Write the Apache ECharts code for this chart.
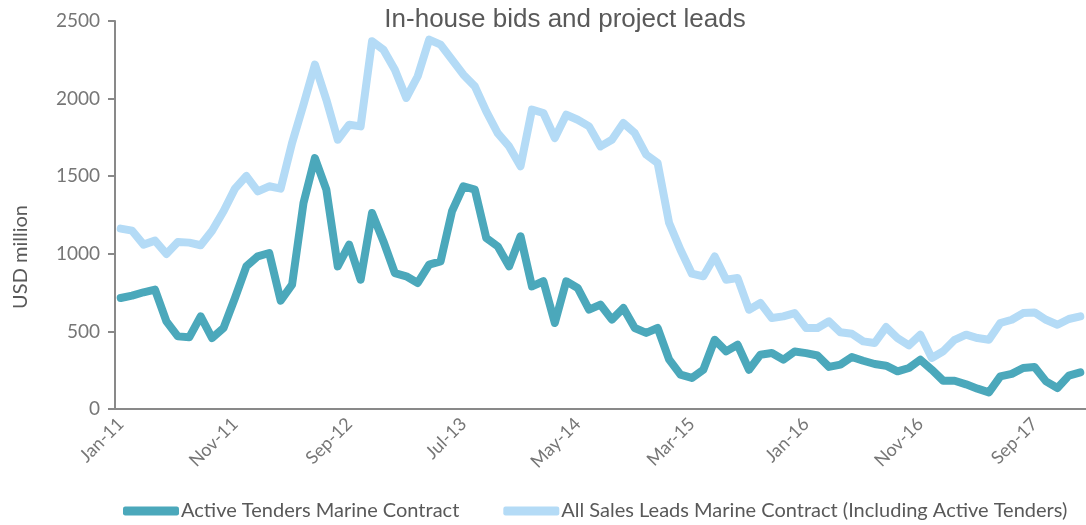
<!DOCTYPE html>
<html>
<head>
<meta charset="UTF-8">
<title>In-house bids and project leads</title>
<script src="https://cdn.jsdelivr.net/npm/echarts@6/dist/echarts.min.js"></script>
<style>
  html, body { margin: 0; padding: 0; background: #fff; }
  #chart { width: 1086px; height: 525px; }
</style>
</head>
<body>
<div id="chart"></div>
<script>
// months Jan-11 .. Jan-18
var monthNames = ['Jan', 'Feb', 'Mar', 'Apr', 'May', 'Jun', 'Jul', 'Aug', 'Sep', 'Oct', 'Nov', 'Dec'];
var months = [];
for (var y = 11; y <= 18; y++) {
    for (var m = 0; m < 12; m++) {
        if (y === 18 && m > 0) break;
        months.push(monthNames[m] + '-' + y);
    }
}

var activeTenders = [
    715, 730, 752, 769, 565, 468, 462, 597, 457, 522,
    715, 919, 984, 1005, 698, 801, 1327, 1617, 1413, 919,
    1059, 833, 1263, 1080, 876, 855, 812, 930, 951, 1274,
    1435, 1413, 1102, 1048, 919, 1113, 790, 823, 554, 823,
    780, 640, 672, 576, 651, 522, 490, 522, 320, 221,
    200, 253, 446, 371, 414, 253, 350, 361, 318, 370,
    360, 345, 271, 286, 335, 311, 290, 279, 243, 264,
    318, 253, 182, 182, 159, 131, 107, 210, 226, 264,
    271, 178, 135, 215, 236
];

var allSalesLeads = [
    1162, 1149, 1059, 1085, 999, 1076, 1072, 1055, 1149, 1274,
    1420, 1501, 1402, 1435, 1420, 1714, 1961, 2219, 1993, 1735,
    1832, 1821, 2369, 2315, 2186, 2004, 2144, 2380, 2348, 2251,
    2154, 2079, 1918, 1778, 1692, 1564, 1929, 1907, 1746, 1896,
    1864, 1821, 1692, 1735, 1843, 1778, 1639, 1585, 1200, 1026,
    872, 855, 983, 833, 844, 640, 683, 586, 597, 618,
    522, 522, 565, 494, 485, 436, 425, 528, 457, 410,
    479, 329, 372, 446, 479, 457, 446, 554, 575, 618,
    622, 575, 543, 580, 597
];

var seriesNames = ['Active Tenders Marine Contract', 'All Sales Leads Marine Contract (Including Active Tenders)'];

var axisGray = '#898989';
var tickTextGray = '#767676';
var textGray = '#595959';
var labelFont = 'Lato, "Open Sans", sans-serif';

var myChart = echarts.init(document.getElementById('chart'));
var option = {
    animation: false,
    title: {
        text: 'In-house bids and project leads',
        left: 560,
        textAlign: 'center',
        top: 2,
        textStyle: {
            color: textGray,
            fontFamily: '"Liberation Sans", Arial, sans-serif',
            fontWeight: 'normal',
            fontSize: 26
        }
    },
    legend: {
        data: seriesNames,
        left: 118,
        top: 496,
        itemWidth: 56,
        itemHeight: 9,
        itemGap: 44,
        icon: 'roundRect',
        textStyle: {
            color: textGray,
            fontFamily: labelFont,
            fontSize: 20,
            padding: [0, 0, 0, -3]
        }
    },
    grid: {
        left: 115,
        right: 0,
        top: 21,
        bottom: 116,
        containLabel: false
    },
    // y axis title sits below the plot middle in the original
    graphic: [{
        type: 'text',
        left: 11,
        top: 205,
        rotation: Math.PI / 2,
        style: {
            text: 'USD million',
            fill: textGray,
            font: '20px Lato, "Open Sans", sans-serif'
        }
    }],
    xAxis: {
        type: 'category',
        data: months,
        boundaryGap: true,
        axisLine: { lineStyle: { color: axisGray, width: 2 } },
        axisTick: { interval: 9, length: 7, lineStyle: { color: axisGray, width: 2 } },
        axisLabel: {
            interval: 9,
            rotate: 45,
            margin: 12,
            color: tickTextGray,
            fontFamily: labelFont,
            fontSize: 18
        },
        splitLine: { show: false }
    },
    yAxis: {
        type: 'value',
        min: 0,
        max: 2500,
        interval: 500,
        axisLine: { show: true, lineStyle: { color: axisGray, width: 2 } },
        axisTick: { show: true, inside: false, length: 7, lineStyle: { color: axisGray, width: 2 } },
        axisLabel: {
            margin: 15,
            color: tickTextGray,
            fontFamily: labelFont,
            fontSize: 19,
            formatter: function (v) { return String(v); }
        },
        splitLine: { show: false }
    },
    series: [{
        name: seriesNames[0],
        type: 'line',
        data: activeTenders,
        symbol: 'none',
        z: 3,
        itemStyle: { color: '#4BA8BB' },
        lineStyle: { color: '#4BA8BB', width: 8, cap: 'round', join: 'round' }
    }, {
        name: seriesNames[1],
        type: 'line',
        data: allSalesLeads,
        symbol: 'none',
        z: 2,
        itemStyle: { color: '#B4DBF6' },
        lineStyle: { color: '#B4DBF6', width: 8, cap: 'round', join: 'round' }
    }]
};
myChart.setOption(option);
window.onresize = myChart.resize;
</script>
</body>
</html>
